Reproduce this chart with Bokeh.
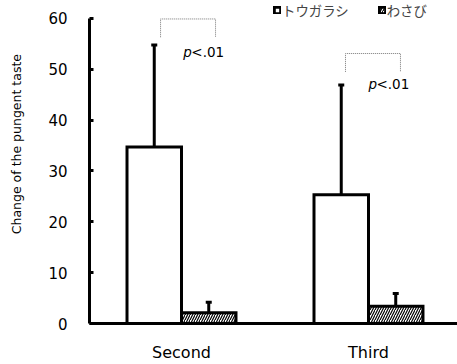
from bokeh.plotting import figure
from bokeh.models import (Range1d, FixedTicker, Whisker, TeeHead, ColumnDataSource,
                          Legend, LegendItem)
from bokeh.core.properties import value
from bokeh.embed import file_html
from bokeh.resources import INLINE

categories = ["Second", "Third"]
series_names = ["トウガラシ", "わさび"]
togarashi_mean = [34.7, 25.3]
togarashi_sd = [20.1, 21.6]
wasabi_mean = [2.1, 3.4]
wasabi_sd = [2.1, 2.5]
y_ticks = [0, 10, 20, 30, 40, 50, 60]
y_title = "Change of the pungent taste"

bracket_left = [0.888, 1.877]
bracket_right = [1.182, 2.171]
bracket_low = [56.3, 49.5]
bracket_high = [59.9, 53.1]
sig_x = [1.01, 2.0]
sig_y = [53.4, 47.1]

FONT = "DejaVu Sans"
JP = "Noto Sans CJK JP"

xpos = [i + 1 for i in range(len(categories))]
bw = 0.2914
off = bw / 2

p = figure(width=457, height=364, output_backend="svg", toolbar_location=None,
           x_range=Range1d(0.508, 2.476), y_range=Range1d(0, 63.53),
           min_border_left=89, min_border_right=0, min_border_top=0, min_border_bottom=40)
p.outline_line_color = None
p.grid.grid_line_color = None
p.background_fill_color = "white"
p.border_fill_color = "white"

src_t = ColumnDataSource(dict(x=[x - off for x in xpos], top=togarashi_mean,
                              up=[m + s for m, s in zip(togarashi_mean, togarashi_sd)]))
src_w = ColumnDataSource(dict(x=[x + off for x in xpos], top=wasabi_mean,
                              up=[m + s for m, s in zip(wasabi_mean, wasabi_sd)]))

r_t = p.vbar(x="x", top="top", bottom=0, width=bw, source=src_t, fill_color="white",
             line_color="black", line_width=3, line_join="miter")
r_w = p.vbar(x="x", top="top", bottom=0, width=bw, source=src_w, fill_color="white",
             line_color="black", line_width=3, line_join="miter",
             hatch_pattern="/", hatch_color="black", hatch_weight=1.2, hatch_scale=5)

for src in (src_t, src_w):
    w = Whisker(base="x", lower="top", upper="up", source=src, dimension="height",
                line_width=3, line_color="black",
                upper_head=TeeHead(size=6, line_width=3, line_color="black"),
                lower_head=None)
    p.add_layout(w)

p.multi_line(xs=[[l, l, r, r] for l, r in zip(bracket_left, bracket_right)],
             ys=[[lo, hi, hi, lo] for lo, hi in zip(bracket_low, bracket_high)],
             line_color="#777777", line_width=1, line_dash="1 1")
p.text(x=sig_x, y=sig_y, text=["p"] * len(sig_x), text_font=value(FONT),
       text_font_style="italic", text_font_size="13.5px", text_baseline="middle",
       text_align="left", text_color="black")
p.text(x=sig_x, y=sig_y, text=["<.01"] * len(sig_x), text_font=value(FONT),
       text_font_size="13.5px", text_baseline="middle", text_align="left",
       text_color="black", x_offset=8)

xa = p.xaxis[0]
xa.ticker = FixedTicker(ticks=xpos)
xa.major_label_overrides = {x: c for x, c in zip(xpos, categories)}
xa.axis_line_width = 3
xa.major_tick_line_color = None
xa.minor_tick_line_color = None
xa.major_tick_out = 0
xa.major_tick_in = 0
xa.major_label_standoff = 19
xa.major_label_text_font = FONT
xa.major_label_text_font_size = "16px"
xa.major_label_text_color = "black"

ya = p.yaxis[0]
ya.ticker = FixedTicker(ticks=y_ticks)
ya.bounds = (0, 60)
ya.axis_line_width = 3
ya.major_tick_in = 4
ya.major_tick_out = 0
ya.major_tick_line_width = 3
ya.minor_tick_line_color = None
ya.major_label_standoff = 22
ya.major_label_text_font = FONT
ya.major_label_text_font_size = "15px"
ya.major_label_text_color = "black"
# leading no-break spaces shift the centred label upward to match the reference
ya.axis_label = "\u00a0" * 9 + y_title
ya.axis_label_standoff = 21
ya.axis_label_text_font = FONT
ya.axis_label_text_font_size = "12.5px"
ya.axis_label_text_font_style = "normal"
ya.axis_label_text_color = "black"

legend = Legend(items=[LegendItem(label=series_names[0], renderers=[r_t]),
                       LegendItem(label=series_names[1], renderers=[r_w])],
                orientation="horizontal", location=(184, 303), padding=0, margin=0,
                spacing=29, label_standoff=1, glyph_width=8, glyph_height=8,
                label_height=13, label_text_font=JP, label_text_font_size="13.4px",
                border_line_color=None, background_fill_alpha=0)
p.add_layout(legend)

open("out.html", "w").write(file_html(p, INLINE))
